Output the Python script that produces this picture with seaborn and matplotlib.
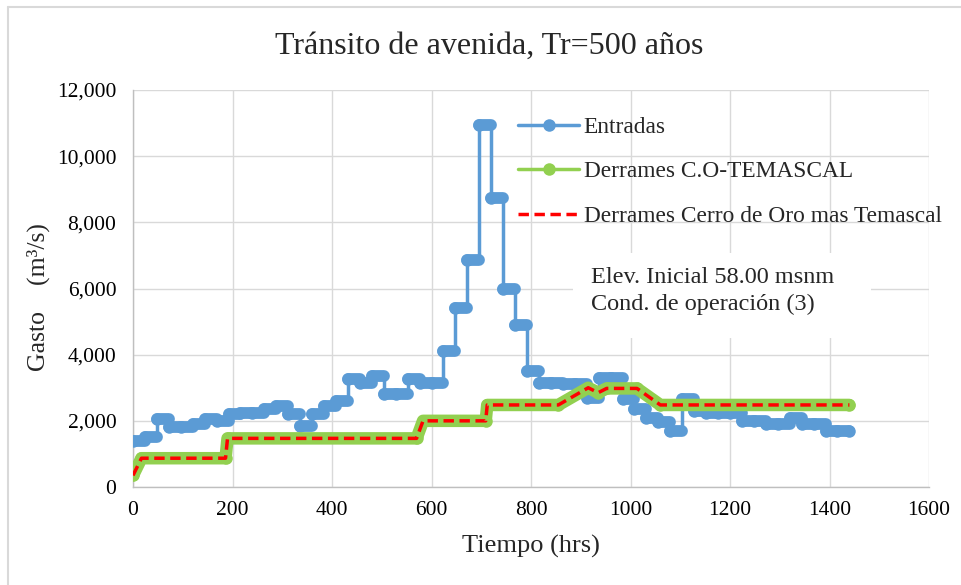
import numpy as np
import pandas as pd
import seaborn as sns
from matplotlib import pyplot as plt
from matplotlib.lines import Line2D
from matplotlib.patches import Rectangle
from matplotlib.ticker import FuncFormatter

# Entradas: daily inflow blocks (start hour, m3/s)
entradas_t = [0, 24, 48, 72, 96, 120, 144, 168, 192, 216, 240, 264, 288, 312, 336,
              360, 384, 408, 432, 456, 480, 504, 528, 552, 576, 600, 624, 648, 672, 696,
              720, 744, 768, 792, 816, 840, 864, 888, 912, 936, 960, 984, 1008, 1032, 1056,
              1080, 1104, 1128, 1152, 1176, 1200, 1224, 1248, 1272, 1296, 1320, 1344, 1368, 1392, 1416]
entradas_q = [1400, 1500, 2050, 1800, 1800, 1900, 2050, 2000, 2200, 2250, 2250, 2350, 2450, 2200, 1850,
              2200, 2450, 2600, 3250, 3150, 3350, 2800, 2800, 3250, 3150, 3150, 4100, 5400, 6850, 10950,
              8750, 6000, 4900, 3500, 3150, 3150, 3100, 3100, 2700, 3300, 3300, 2650, 2350, 2100, 1950,
              1700, 2650, 2300, 2250, 2250, 2250, 2000, 2000, 1900, 1900, 2100, 1900, 1900, 1700, 1700]
t_end = 1440

# Derrames C.O-TEMASCAL (vertices)
derr_t = [0, 17, 186, 190, 570, 583, 709, 712, 855, 915, 935, 952, 1013, 1060, 1440]
derr_q = [350, 870, 870, 1470, 1470, 2000, 2000, 2480, 2480, 3000, 2850, 2980, 2980, 2480, 2480]

# Derrames Cerro de Oro mas Temascal
suma_t = [0, 17, 186, 190, 570, 583, 709, 712, 855, 915, 935, 952, 1013, 1060, 1440]
suma_q = [350, 870, 870, 1470, 1470, 2000, 2000, 2480, 2480, 3000, 2850, 2980, 2980, 2480, 2480]

blue = "#5B9BD5"
green = "#92D050"
red = "#FF0000"
W, H = 961, 585

sns.set_theme(style="whitegrid")
plt.rcParams["font.family"] = ["Liberation Serif", "DejaVu Serif"]

fig = plt.figure(figsize=(9.61, 5.85), dpi=100)
ax = fig.add_axes([133 / W, 1 - 487 / H, 796 / W, 397 / H])

ent = pd.DataFrame({"t": entradas_t + [t_end], "q": entradas_q + [entradas_q[-1]]})
sns.lineplot(data=ent, x="t", y="q", ax=ax, color=blue, lw=2.5, drawstyle="steps-post",
             marker="o", markersize=9, markeredgewidth=0, legend=False, zorder=3)
ends = entradas_t[1:] + [t_end]
ax.hlines(entradas_q, entradas_t, ends, colors=blue, lw=8.5, capstyle="round", zorder=3)

der = pd.DataFrame({"t": derr_t, "q": derr_q})
sns.lineplot(data=der, x="t", y="q", ax=ax, color=green, lw=9, solid_capstyle="round",
             solid_joinstyle="round", marker="o", markersize=9, markeredgewidth=0,
             legend=False, zorder=4)
sm = pd.DataFrame({"t": suma_t, "q": suma_q})
sns.lineplot(data=sm, x="t", y="q", ax=ax, color=red, lw=2.5, linestyle=(0, (3, 1.6)),
             legend=False, zorder=5)

ax.set_xlim(0, 1600)
ax.set_ylim(0, 12000)
ax.set_xticks(np.arange(0, 1601, 200))
ax.set_yticks(np.arange(0, 12001, 2000))
ax.yaxis.set_major_formatter(FuncFormatter(lambda v, p: f"{v:,.0f}"))
ax.grid(True, color="#D9D9D9", lw=1)
for s in ["top", "right"]:
    ax.spines[s].set_visible(False)
for s in ["left", "bottom"]:
    ax.spines[s].set_color("#BFBFBF")
    ax.spines[s].set_linewidth(1)
ax.tick_params(axis="y", labelsize=15.5, colors="black", pad=12, length=0)
ax.tick_params(axis="x", labelsize=15.5, colors="black", pad=10, length=0)

fig.text(489 / W, 1 - 46 / H, "Tránsito de avenida, Tr=500 años", fontsize=23,
         ha="center", va="center")
ax.set_xlabel("Tiempo (hrs)", fontsize=19)
ax.xaxis.label.set_va("center")
ax.xaxis.set_label_coords(0.5, (487 - 546) / 397)
ax.set_ylabel("Gasto    (m³/s)", fontsize=18.5)
ax.yaxis.label.set_va("center")
ax.yaxis.set_label_coords((38 - 133) / 796, (487 - 297) / 397)

handles = [
    Line2D([], [], color=blue, lw=2.5, marker="o", markersize=9, markeredgewidth=0),
    Line2D([], [], color=green, lw=2.5, marker="o", markersize=9, markeredgewidth=0),
    Line2D([], [], color=red, lw=2.5, linestyle=(0, (3, 1.6))),
]
labels = ["Entradas", "Derrames C.O-TEMASCAL", "Derrames Cerro de Oro mas Temascal"]
ax.legend(handles, labels, loc="upper left", bbox_to_anchor=((509 - 133) / 796, (487 - 107) / 397),
          frameon=False, fontsize=16.8, handlelength=2.6, labelspacing=1.0, handletextpad=0.2,
          borderaxespad=0)

# white box behind the annotation
ax.add_patch(Rectangle(((573 - 133) / 796, (487 - 338) / 397), 298 / 796, 85 / 397,
                       transform=ax.transAxes, facecolor="white", edgecolor="none", zorder=2.5))
ax.text((591 - 133) / 796, (487 - 291) / 397, "Elev. Inicial 58.00 msnm\nCond. de operación (3)",
        transform=ax.transAxes, fontsize=17.5, va="center", ha="left", linespacing=1.35, zorder=6)

# chart area border (left and top only visible)
fig.add_artist(Line2D([8 / W, 8 / W], [0, 1 - 7 / H], transform=fig.transFigure,
                      color="#D9D9D9", lw=1.5))
fig.add_artist(Line2D([8 / W, 1], [1 - 7 / H, 1 - 7 / H], transform=fig.transFigure,
                      color="#D9D9D9", lw=1.5))

fig.savefig("out.png", dpi=100)
